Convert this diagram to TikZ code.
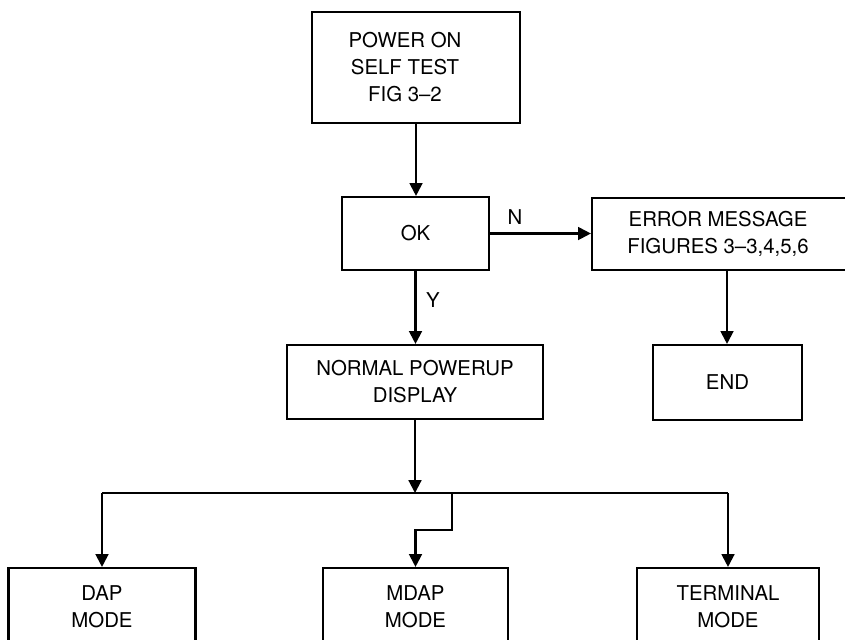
\documentclass[tikz,border=0pt]{standalone}
\usepackage{fontspec}
\setmainfont{TeX Gyre Heros}
\usetikzlibrary{arrows.meta}
\tikzset{
  box/.style={draw, line width=1.5pt, rectangle, align=center, inner sep=0pt},
  arr/.style={line width=1.5pt, -{Triangle[length=0.32cm,width=0.32cm]}},
  lbl/.style={inner sep=0pt, align=center}
}
\begin{document}
\begin{tikzpicture}[x=0.025cm,y=-0.025cm,font=\fontsize{14.5}{19.2}\selectfont]
\useasboundingbox (0,0) rectangle (845,639);
\clip (0,0) rectangle (845,639);
\fill[white] (0,0) rectangle (845,639);
\node[box, minimum width=5.2cm, minimum height=2.775cm] (post) at (416,67.5) {};
\node[lbl] (posttxt) at (405,67.5) {POWER ON\\SELF TEST\\FIG 3--2};
\node[box, minimum width=3.675cm, minimum height=1.825cm] (ok) at (415.5,233.5) {OK};
\node[box, minimum width=6.75cm, minimum height=1.8cm] (err) at (727,234) {};
\node[lbl] (errtxt) at (718,234) {ERROR MESSAGE\\FIGURES 3--3,4,5,6};
\node[box, minimum width=6.4cm, minimum height=1.85cm] (norm) at (415,382) {NORMAL POWERUP\\DISPLAY};
\node[box, minimum width=3.725cm, minimum height=1.875cm] (fin) at (727.5,382.5) {END};
\node[box, minimum width=4.675cm, minimum height=1.95cm] (dap) at (102,607) {DAP\\MODE};
\node[box, minimum width=4.625cm, minimum height=1.95cm] (mdap) at (415.5,607) {MDAP\\MODE};
\node[box, minimum width=4.55cm, minimum height=1.95cm] (term) at (728,607) {TERMINAL\\MODE};
\coordinate (jn) at (416,493);
\coordinate (mk) at (452,493);
\coordinate (bend) at (452,530);
\draw[arr] (post.south) -- (post.south |- ok.north);
\draw[arr] (ok.east) -- (err.west |- ok.east);
\draw[arr] (ok.south) -- (ok.south |- norm.north);
\draw[arr] (err.south) -- (err.south |- fin.north);
\draw[arr] (norm.south) -- (norm.south |- jn);
\draw[line width=1.5pt] (dap.north |- jn) -- (term.north |- jn);
\draw[arr] (dap.north |- jn) -- (dap.north);
\draw[arr] (term.north |- jn) -- (term.north);
\draw[arr] (mk) -- (bend) -| (mdap.north);
\node[lbl] (nlab) at (515,217) {N};
\node[lbl] (ylab) at (433,300) {Y};
\end{tikzpicture}
\end{document}
